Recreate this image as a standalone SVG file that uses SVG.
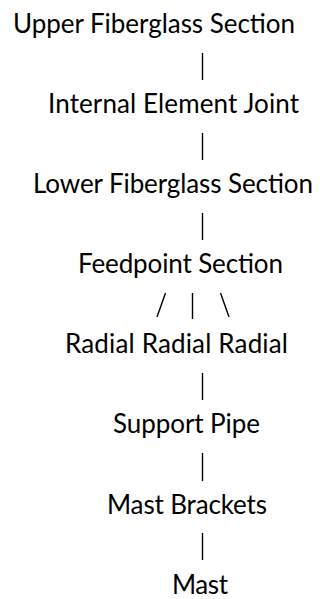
<svg xmlns="http://www.w3.org/2000/svg" width="320" height="599" viewBox="0 0 320 599">
<style>
text{font-family:Lato,"Liberation Sans",Arial,sans-serif;font-size:26px;fill:#000;text-anchor:middle}
.c{stroke:#000;stroke-width:1.4;fill:none}
</style>
<rect width="320" height="599" fill="#fff"/>
<g id="upper"><text x="154" y="33" textLength="282">Upper Fiberglass Section</text></g>
<g id="joint"><text x="173.5" y="113" textLength="251">Internal Element Joint</text></g>
<g id="lower"><text x="173" y="193" textLength="280">Lower Fiberglass Section</text></g>
<g id="feedpoint"><text x="180.5" y="273" textLength="205">Feedpoint Section</text></g>
<g id="radials"><text x="176.5" y="353" textLength="223">Radial Radial Radial</text></g>
<g id="pipe"><text x="186.5" y="433" textLength="147">Support Pipe</text></g>
<g id="brackets"><text x="187" y="514" textLength="160">Mast Brackets</text></g>
<g id="mast"><text x="200" y="594" textLength="56">Mast</text></g>
<g id="connectors" class="c">
<line x1="202.5" y1="53" x2="202.5" y2="80"/>
<line x1="202.5" y1="133" x2="202.5" y2="160"/>
<line x1="202.5" y1="213" x2="202.5" y2="240"/>
<line x1="157" y1="317" x2="165.5" y2="293"/>
<line x1="192.5" y1="293" x2="192.5" y2="319"/>
<line x1="220.5" y1="293" x2="229" y2="317"/>
<line x1="202.5" y1="373" x2="202.5" y2="400"/>
<line x1="202.5" y1="453" x2="202.5" y2="481"/>
<line x1="202.5" y1="533" x2="202.5" y2="560"/>
</g>
</svg>
